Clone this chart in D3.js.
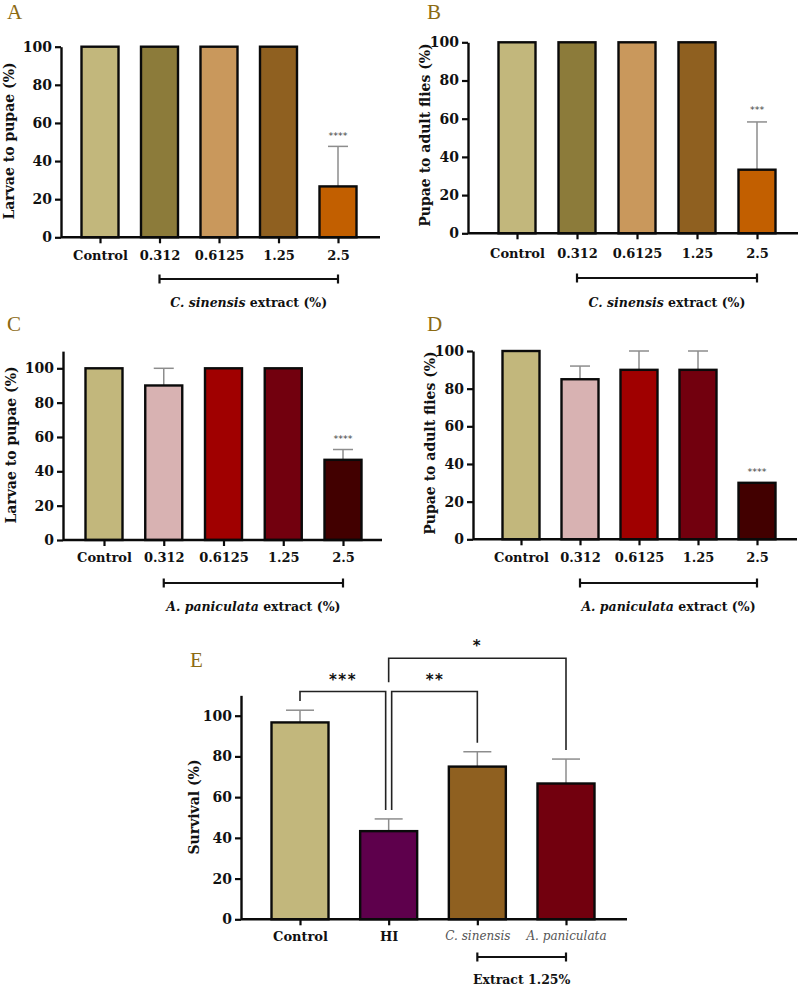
<!DOCTYPE html>
<html><head><meta charset="utf-8">
<script src="https://cdn.jsdelivr.net/npm/d3@7/dist/d3.min.js"></script>
<style>
html,body{margin:0;padding:0;background:#fff;}
svg{display:block;}
</style></head>
<body>
<script>
// ---------- data ----------
const catsAD = ["Control","0.312","0.6125","1.25","2.5"];
const valsA = [100,100,100,100,26.7];
const errA  = [0,0,0,0,21];
const valsB = [100,100,100,100,33.3];
const errB  = [0,0,0,0,25];
const valsC = [100,90,100,100,46.7];
const errC  = [0,10,0,0,6];
const valsD = [100,85,90,90,30];
const errD  = [0,7,10,10,0];
const catsE = ["Control","HI","C. sinensis","A. paniculata"];
const valsE = [96.7,43.3,75,66.7];
const errE  = [6,6,7.3,12];
const yTicks = [0,20,40,60,80,100];
const colorsAB = ["#c2b77c","#8c7b3a","#c9985c","#8f6020","#c25f00"];
const colorsCD = ["#c2b77c","#d8b2b2","#a00000","#72000e","#420000"];
const colorsE  = ["#c2b77c","#5e004c","#8f6020","#72000e"];
const starsA = ["","","","","****"];
const starsB = ["","","","","***"];
const starsC = ["","","","","****"];
const starsD = ["","","","","****"];
const compE = [
  {a:"Control", b:"HI", label:"***"},
  {a:"HI", b:"C. sinensis", label:"**"},
  {a:"HI", b:"A. paniculata", label:"*"}
];

const W = 799, H = 988;
const SERIF = "'DejaVu Serif', 'Liberation Serif', serif";
const svg = d3.select("body").append("svg").attr("width", W).attr("height", H);

function panel(cfg){
  const g = svg.append("g");
  const pxPer = (cfg.y0 - cfg.y100)/100;
  const y = d3.scaleLinear().domain([0, cfg.ymax]).range([cfg.y0, cfg.y0 - cfg.ymax*pxPer]);
  const x = d3.scalePoint().domain(cfg.cats).range([cfg.c0, cfg.c1]);

  g.append("text").attr("x", cfg.letterX).attr("y", cfg.letterY)
    .attr("font-family","'Liberation Serif', serif").attr("font-size", 21)
    .attr("fill","#8c6a12").text(cfg.letter);

  cfg.vals.forEach((v,i)=>{
    const e = cfg.errs[i];
    if(!e) return;
    const cx = x(cfg.cats[i]);
    g.append("line").attr("x1",cx).attr("x2",cx).attr("y1",y(v)).attr("y2",y(v+e))
      .attr("stroke","#8d8d8d").attr("stroke-width",1.5);
    g.append("line").attr("x1",cx-cfg.cap/2).attr("x2",cx+cfg.cap/2).attr("y1",y(v+e)).attr("y2",y(v+e))
      .attr("stroke","#8d8d8d").attr("stroke-width",1.5);
  });

  g.selectAll("rect.bar").data(cfg.vals).join("rect").attr("class","bar")
    .attr("x",(d,i)=>x(cfg.cats[i])-cfg.bw/2)
    .attr("width",cfg.bw)
    .attr("y",d=>y(d))
    .attr("height",d=>y(0)-y(d))
    .attr("fill",(d,i)=>cfg.colors[i])
    .attr("stroke","#0a0a0a").attr("stroke-width",2.4);

  const ya = g.append("g").attr("transform",`translate(${cfg.ax},0)`)
    .call(d3.axisLeft(y).tickValues(yTicks).tickSize(6).tickSizeOuter(0).tickPadding(3));
  ya.select(".domain").attr("stroke","#0a0a0a").attr("stroke-width",2.4);
  ya.selectAll(".tick line").attr("stroke","#0a0a0a").attr("stroke-width",2.2);
  ya.selectAll(".tick text").attr("font-family",SERIF).attr("font-weight","bold")
    .attr("font-size",14).attr("fill","#111");

  const xa = g.append("g").attr("transform",`translate(0,${cfg.y0})`)
    .call(d3.axisBottom(x).tickSize(6).tickPadding(cfg.xPad));
  xa.select(".domain").remove();
  xa.append("line").attr("x1",cfg.ax).attr("x2",cfg.xEnd).attr("y1",0).attr("y2",0)
    .attr("stroke","#0a0a0a").attr("stroke-width",2.4);
  xa.selectAll(".tick line").attr("stroke","#0a0a0a").attr("stroke-width",2.2);
  const isIt = d => cfg.italicCats && cfg.italicCats.includes(d);
  xa.selectAll(".tick text").attr("font-family",SERIF)
    .attr("font-weight",d=>isIt(d) ? "normal":"bold")
    .attr("font-style",d=>isIt(d) ? "italic":"normal")
    .attr("fill",d=>isIt(d) ? "#555":"#111")
    .attr("font-size",d=>isIt(d) ? 12 : cfg.xFont);

  g.append("text").attr("transform",`translate(${cfg.ylabelX},${cfg.ylabelY}) rotate(-90)`)
    .attr("text-anchor","middle").attr("dominant-baseline","central")
    .attr("font-family",SERIF).attr("font-weight","bold").attr("font-size",14)
    .attr("fill","#111").text(cfg.ylabel);

  if(cfg.stars){
    cfg.stars.forEach((s,i)=>{
      if(!s) return;
      const top = y(cfg.vals[i]+cfg.errs[i]);
      g.append("text").attr("x",x(cfg.cats[i])).attr("y",top-cfg.starGap)
        .attr("text-anchor","middle").attr("font-family","'DejaVu Sans', sans-serif")
        .attr("font-size",9.5).attr("fill","#444").text(s);
    });
  }

  const bx1 = x(cfg.cats[cfg.brFrom]), bx2 = x(cfg.cats[cfg.brTo]);
  const by = cfg.brY;
  g.append("line").attr("x1",bx1).attr("x2",bx2).attr("y1",by).attr("y2",by).attr("stroke","#111").attr("stroke-width",2.2);
  [bx1,bx2].forEach(bx=>g.append("line").attr("x1",bx).attr("x2",bx).attr("y1",by-4.5).attr("y2",by+4.5).attr("stroke","#111").attr("stroke-width",2.2));

  const t = g.append("text").attr("x",(bx1+bx2)/2 + cfg.titleDx).attr("y",cfg.titleY)
    .attr("text-anchor","middle").attr("font-family",SERIF).attr("font-weight","bold")
    .attr("font-size",12.5).attr("fill","#111");
  cfg.title.forEach(p=>t.append("tspan").attr("font-style",p.it?"italic":"normal").text(p.t));

  return {x,y,g};
}

panel({letter:"A", letterX:7, letterY:19, cats:catsAD, vals:valsA, errs:errA, colors:colorsAB,
  ax:61, xEnd:380, y0:237.3, y100:46.7, ymax:100, c0:100, c1:338, bw:37, cap:20, xPad:7, xFont:13,
  ylabel:"Larvae to pupae (%)", ylabelX:9, ylabelY:141, stars:starsA, starGap:7,
  brFrom:1, brTo:4, brY:279, title:[{t:"C. sinensis",it:true},{t:" extract (%)"}], titleY:307, titleDx:0});

panel({letter:"B", letterX:427, letterY:19, cats:catsAD, vals:valsB, errs:errB, colors:colorsAB,
  ax:468, xEnd:798, y0:233.3, y100:42.3, ymax:100, c0:517, c1:757, bw:37, cap:20, xPad:9, xFont:13,
  ylabel:"Pupae to adult flies (%)", ylabelX:425, ylabelY:135, stars:starsB, starGap:9,
  brFrom:1, brTo:4, brY:278, title:[{t:"C. sinensis",it:true},{t:" extract (%)"}], titleY:307, titleDx:0});

panel({letter:"C", letterX:7, letterY:331, cats:catsAD, vals:valsC, errs:errC, colors:colorsCD,
  ax:63, xEnd:382, y0:540, y100:368.3, ymax:110, c0:104, c1:343, bw:37, cap:20, xPad:7, xFont:13,
  ylabel:"Larvae to pupae (%)", ylabelX:11, ylabelY:445, stars:starsC, starGap:8,
  brFrom:1, brTo:4, brY:583, title:[{t:"A. paniculata",it:true},{t:" extract (%)"}], titleY:611, titleDx:0});

panel({letter:"D", letterX:427, letterY:331, cats:catsAD, vals:valsD, errs:errD, colors:colorsCD,
  ax:473, xEnd:797, y0:539.3, y100:351, ymax:100, c0:521, c1:757, bw:37, cap:20, xPad:7, xFont:13,
  ylabel:"Pupae to adult flies (%)", ylabelX:430, ylabelY:443, stars:starsD, starGap:8,
  brFrom:1, brTo:4, brY:583, title:[{t:"A. paniculata",it:true},{t:" extract (%)"}], titleY:611, titleDx:0});

const pE = panel({letter:"E", letterX:190, letterY:667, cats:catsE, vals:valsE, errs:errE, colors:colorsE,
  ax:241, xEnd:627, y0:919.3, y100:715.7, ymax:110, c0:300, c1:566, bw:57, cap:28, xPad:6, xFont:13,
  italicCats:["C. sinensis","A. paniculata"],
  ylabel:"Survival (%)", ylabelX:194, ylabelY:807, stars:null, starGap:0,
  brFrom:2, brTo:3, brY:957, title:[{t:"Extract 1.25%"}], titleY:984, titleDx:0});

(function(){
  const {x,y,g} = pE;
  const topOf = c => { const i = catsE.indexOf(c); return y(valsE[i]+errE[i]) - 9; };
  const levels = [691.5, 691.5, 658.3];
  const offs = [[0,-3],[3,0],[0,0]];
  compE.forEach((c,k)=>{
    const xa = x(c.a)+offs[k][0], xb = x(c.b)+offs[k][1], ly = levels[k];
    let ya = topOf(c.a), yb = topOf(c.b);
    if(k===0) ya = 701;
    if(k===2) ya = 682.3;
    g.append("path").attr("d",`M${xa},${ya}V${ly}H${xb}V${yb}`)
      .attr("fill","none").attr("stroke","#222").attr("stroke-width",1.6);
    g.append("text").attr("x",k===2 ? x("C. sinensis") : (k===0 ? 343 : 435))
      .attr("y", ly-7).attr("text-anchor","middle")
      .attr("font-family","'DejaVu Sans', sans-serif").attr("font-weight","bold")
      .attr("font-size",15).attr("letter-spacing",1.5).attr("fill","#111").text(c.label);
  });
})();
</script>
</body></html>
